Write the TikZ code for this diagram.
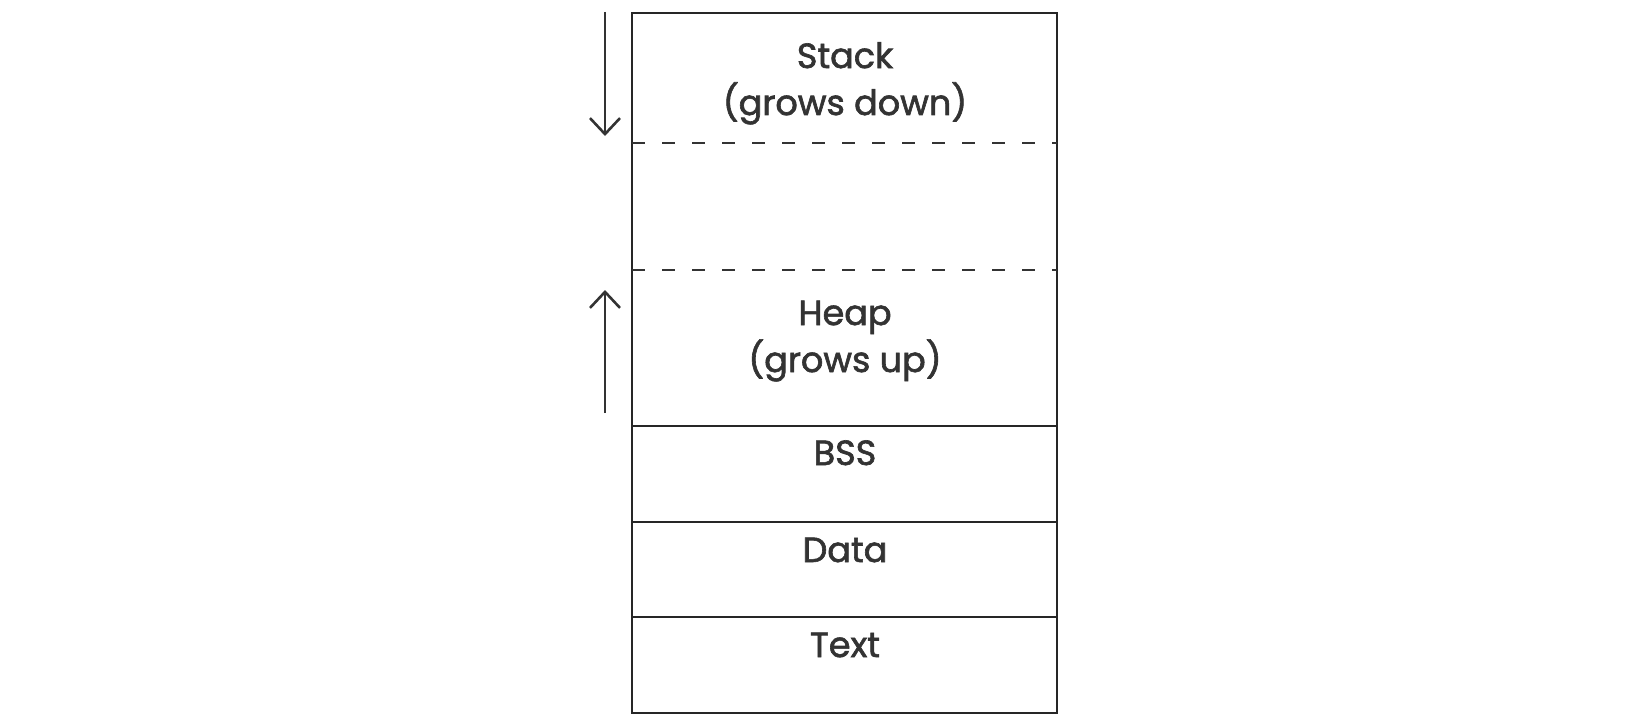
\documentclass[tikz,border=0pt]{standalone}
\usepackage{fontspec}
\setmainfont{Poppins}
\newfontfamily\labelfont{Poppins}[FakeBold=1.8]
\usetikzlibrary{arrows.meta}
\definecolor{ink}{HTML}{333333}
\begin{document}
\begin{tikzpicture}[x=0.5pt,y=-0.5pt,
  boxline/.style={draw=black!85, line width=0.65pt},
  gapline/.style={draw=ink, line width=1.15pt, dash pattern=on 6.5pt off 8.5pt},
  growarrow/.style={draw=ink, line width=1.3pt, -{Straight Barb[length=8pt,width=15pt,line width=1.3pt]}},
  label/.style={font=\labelfont\fontsize{17.5}{23.5}\selectfont, text=ink, align=center, inner sep=0pt, anchor=base}]
\useasboundingbox (0,0) rectangle (1648,722);
% outer box
\draw[boxline] (632,13) rectangle (1057,713);
% dividers
\coordinate (d1l) at (632,143); \coordinate (d1r) at (1057,143);
\coordinate (d2l) at (632,270); \coordinate (d2r) at (1057,270);
\coordinate (s1l) at (632,426); \coordinate (s1r) at (1057,426);
\coordinate (s2l) at (632,522); \coordinate (s2r) at (1057,522);
\coordinate (s3l) at (632,617); \coordinate (s3r) at (1057,617);
\draw[gapline] (d1l) -- (d1r);
\draw[gapline] (d2l) -- (d2r);
\draw[boxline] (s1l) -- (s1r);
\draw[boxline] (s2l) -- (s2r);
\draw[boxline] (s3l) -- (s3r);
% labels (anchor = baseline of last line)
\node[label] (stack) at (845,115) {Stack\\(grows down)};
\node[label] (heap) at (845,372) {Heap\\(grows up)};
\node[label] (bss) at (845,465) {BSS};
\node[label] (data) at (845,562) {Data};
\node[label] (text) at (845,657) {Text};
% arrows
\coordinate (a1s) at (605,12); \coordinate (a1e) at (605,136);
\coordinate (a2s) at (605,413); \coordinate (a2e) at (605,290);
\draw[growarrow] (a1s) -- (a1e);
\draw[growarrow] (a2s) -- (a2e);
\end{tikzpicture}
\end{document}
